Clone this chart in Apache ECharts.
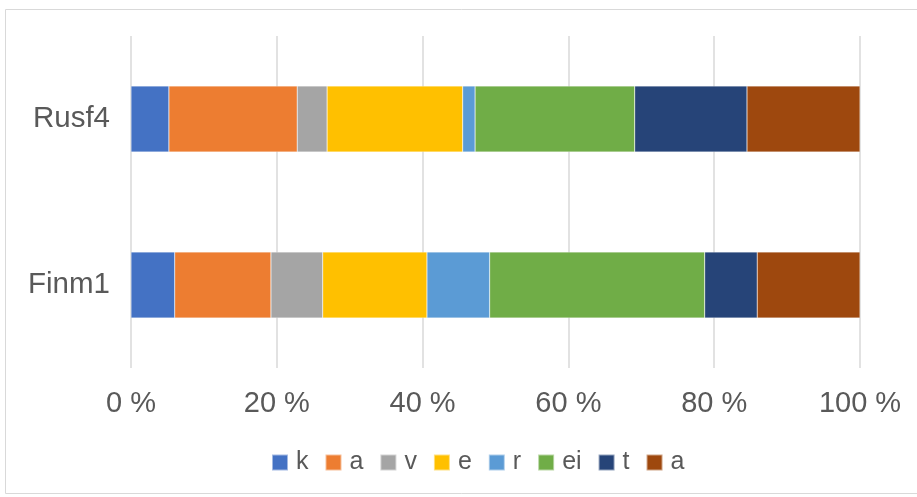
<!DOCTYPE html>
<html>
<head>
<meta charset="utf-8">
<script src="https://cdn.jsdelivr.net/npm/echarts@6/dist/echarts.min.js"></script>
<style>html,body{margin:0;padding:0;background:#fff}#c{width:917px;height:497px}</style>
</head>
<body>
<div id="c"></div>
<script>
const categories = ['Finm1', 'Rusf4'];
const seriesNames = ['k', 'a', 'v', 'e', 'r', 'ei', 't', 'a'];
const k  = [6.0, 5.2];
const a1 = [13.2, 17.6];
const v  = [7.1, 4.1];
const e  = [14.3, 18.6];
const r  = [8.6, 1.7];
const ei = [29.5, 21.9];
const t  = [7.2, 15.4];
const a2 = [14.1, 15.5];
const xTicks = [0, 20, 40, 60, 80, 100];
const colors = ['#4472C4', '#ED7D31', '#A5A5A5', '#FFC000', '#5B9BD5', '#70AD47', '#264478', '#9E480E'];

const values = [k, a1, v, e, r, ei, t, a2];
const ids = seriesNames.map((n, i) => n + '#' + i);

const chart = echarts.init(document.getElementById('c'), null, {renderer: 'canvas'});
chart.setOption({
  animation: false,
  graphic: [{
    type: 'rect', silent: true,
    shape: {x: 5.5, y: 9.5, width: 920, height: 484},
    style: {fill: 'none', stroke: '#d9d9d9', lineWidth: 1}
  }],
  legend: {
    left: 271, top: 450, padding: 0,
    itemWidth: 16, itemHeight: 16, itemGap: 16,
    icon: 'rect',
    data: ids,
    formatter: name => name.split('#')[0],
    textStyle: {fontFamily: 'Liberation Sans, Arial, sans-serif', fontSize: 25, color: '#595959', padding: [0, 0, 0, 3]}
  },
  grid: {left: 131, right: 57, top: 36, bottom: 129, containLabel: false},
  xAxis: {
    type: 'value', min: 0, max: 100, interval: 20,
    axisLine: {show: false}, axisTick: {show: false},
    splitLine: {show: true, lineStyle: {color: '#d9d9d9', width: 1.5}},
    axisLabel: {
      margin: 21,
      formatter: val => xTicks.indexOf(val) >= 0 ? val + ' %' : '',
      fontFamily: 'Liberation Sans, Arial, sans-serif', fontSize: 29, color: '#595959'
    }
  },
  yAxis: {
    type: 'category', data: categories,
    axisLine: {show: false}, axisTick: {show: false},
    axisLabel: {margin: 21, fontFamily: 'Liberation Sans, Arial, sans-serif', fontSize: 29.5, color: '#595959'}
  },
  series: values.map((vals, i) => ({
    type: 'bar', name: ids[i], stack: 'total',
    barWidth: 66,
    itemStyle: {color: colors[i], borderColor: 'rgba(255,255,255,0.5)', borderWidth: 0.5},
    data: vals
  }))
});
</script>
</body>
</html>
